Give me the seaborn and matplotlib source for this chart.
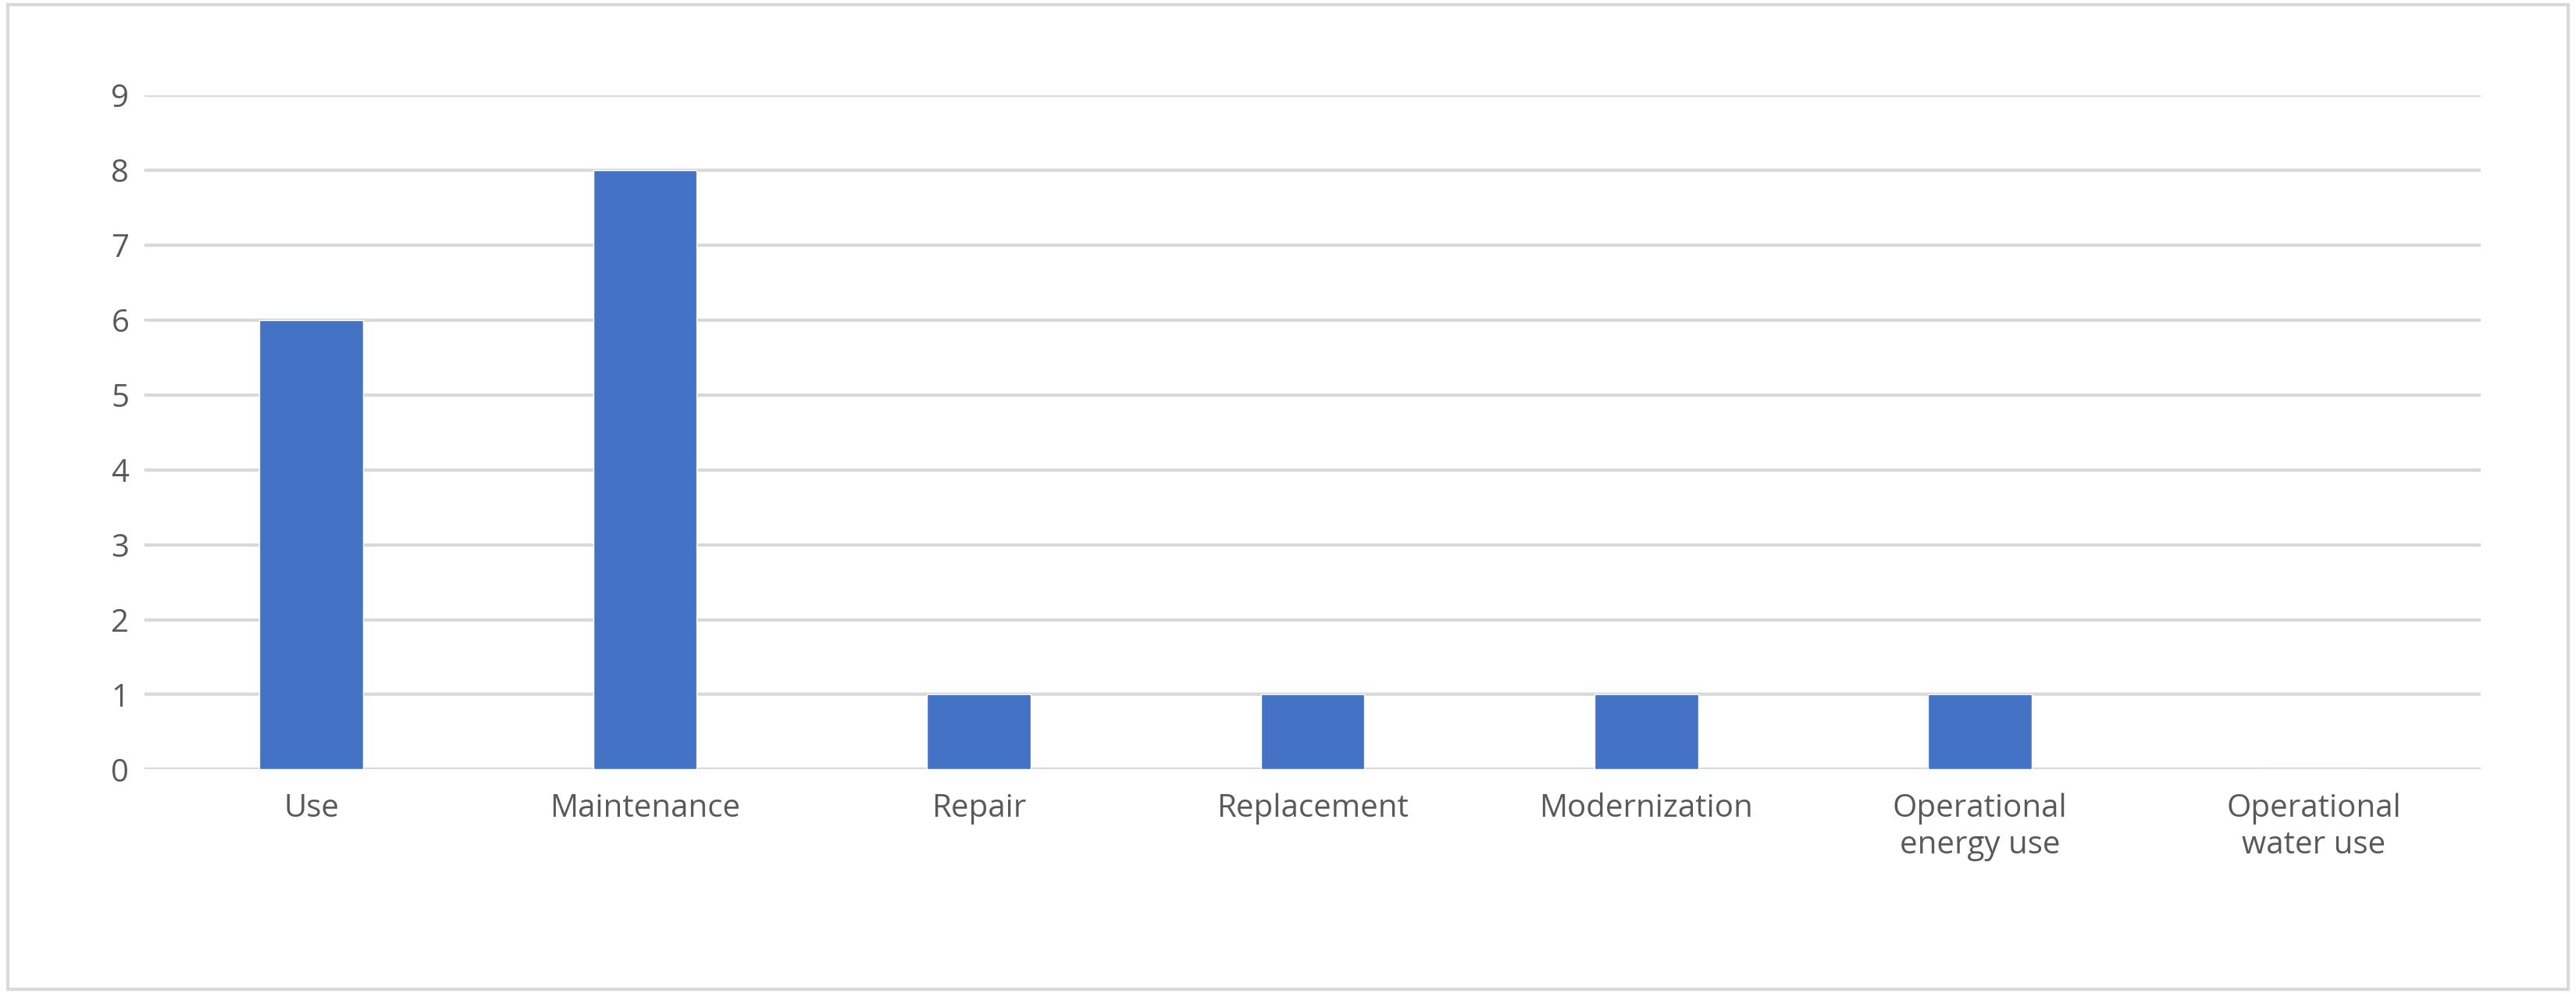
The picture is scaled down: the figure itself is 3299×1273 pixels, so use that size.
import matplotlib
matplotlib.use("Agg")
import matplotlib.pyplot as plt
import seaborn as sns
import pandas as pd
from matplotlib.patches import Rectangle

categories = ["Use", "Maintenance", "Repair", "Replacement", "Modernization",
              "Operational\nenergy use", "Operational\nwater use"]
values = [6, 8, 1, 1, 1, 1, 0]
yticks = list(range(0, 10))

sns.set_theme(style="white")
plt.rcParams['font.family'] = ['Open Sans', 'DejaVu Sans']

fig = plt.figure(figsize=(32.99, 12.73), dpi=100)
ax = fig.add_axes([0.056, 0.226, 0.907, 0.678])
df = pd.DataFrame({"cat": categories, "val": values})
sns.barplot(data=df, x="cat", y="val", color="#4472C4", saturation=1, width=0.31, ax=ax, zorder=3)
ax.set_ylim(0, 9)
ax.set_yticks(yticks)
ax.set_xlim(-0.5, len(categories) - 0.5)
ax.yaxis.grid(True, color="#D9D9D9", linewidth=3, zorder=0)
ax.set_axisbelow(True)
for s in ax.spines.values():
    s.set_visible(False)
ax.axhline(0, color="#D9D9D9", linewidth=3, zorder=1)
ax.set_xlabel("")
ax.set_ylabel("")
ax.tick_params(axis="both", length=0, labelsize=29, colors="#595959", pad=14)
ax.tick_params(axis="x", pad=22)
fig.patches.append(Rectangle((0.003, 0.005), 0.994, 0.99, transform=fig.transFigure,
                             fill=False, edgecolor="#D9D9D9", linewidth=3))
fig.savefig("out.png", dpi=100)
